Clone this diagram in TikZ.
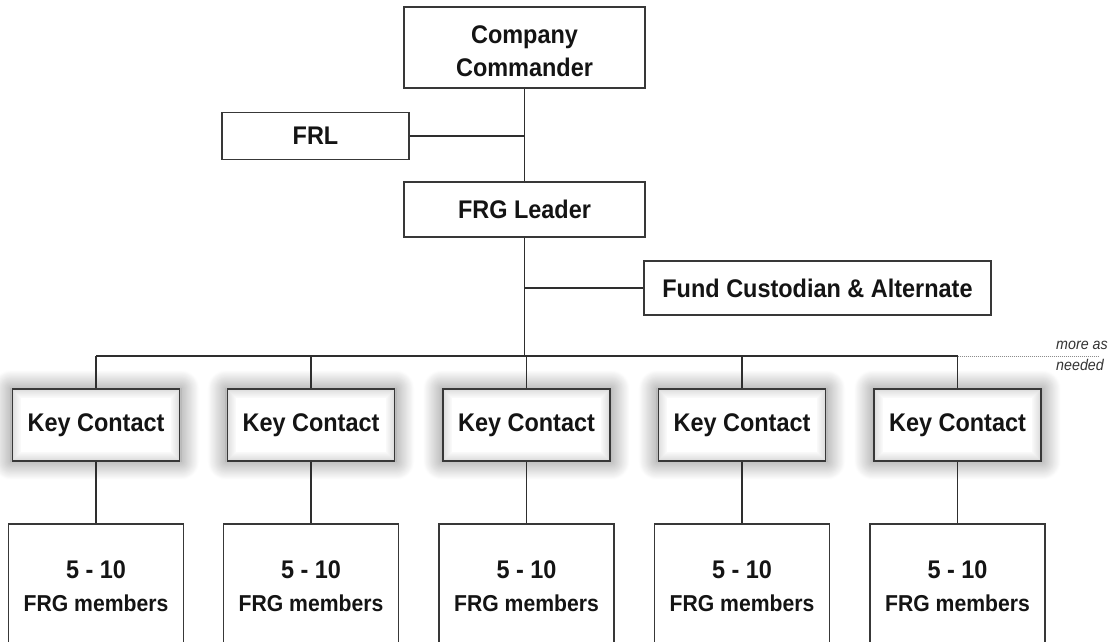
\documentclass[tikz,border=0pt]{standalone}
\usepackage{fontspec}
\setmainfont[FakeStretch=0.92]{Liberation Sans}
\usetikzlibrary{shadows.blur,calc}
\begin{document}
\begin{tikzpicture}[x=1pt,y=-1pt,
  box/.style={draw=black!78, line width=1.8pt, fill=white, inner sep=0pt,
    font=\bfseries\fontsize{25.5}{33}\selectfont, text=black!92, align=center},
  kcbase/.style={fill=black!13, draw=none, inner sep=0pt,
    minimum width=167, minimum height=72,
    blur shadow={shadow xshift=0pt, shadow yshift=0pt, shadow blur radius=18pt,
      shadow blur steps=30, shadow opacity=50, shadow scale=1.02}},
  kcbox/.style={draw=black!78, line width=1.8pt, inner sep=0pt,
    minimum width=167, minimum height=72,
    font=\bfseries\fontsize{25.5}{31}\selectfont, text=black!92},
  membox/.style={box, minimum width=175, minimum height=124,
    font=\bfseries\fontsize{23}{33}\selectfont},
  conn/.style={draw=black!82, line width=1.5pt},
  dotline/.style={draw=black!45, line width=1pt, densely dotted},
  note/.style={font=\itshape\fontsize{15.5}{21}\selectfont, text=black!80, align=left, inner sep=0pt}
]
\useasboundingbox (0,0) rectangle (1115,641);
\clip (0,0) rectangle (1115,641);

\coordinate (busy) at (0,356);
\coordinate (dotend) at (1098,356);

% upper boxes
\node[box, minimum width=241, minimum height=81] (cc) at (524.5,47.5) {};
\node[box, draw=none, fill=none] (cctext) at (524.5,51) {Company\\Commander};
\node[box, minimum width=187, minimum height=47] (frl) at (315.5,136) {FRL};
\node[box, minimum width=241, minimum height=55] (frg) at (524.5,209.5) {FRG Leader};
\node[box, minimum width=347, minimum height=54] (fund) at (817.5,288) {Fund Custodian \& Alternate};

% key contacts and members
\foreach \n/\x in {1/96,2/311,3/526.5,4/742,5/957.5} {
  \node[kcbase] (kcb\n) at (\x,425) {};
  \foreach \i [evaluate=\i as \g using 12-1.4*\i] in {0,...,7}
    \fill[black!\g] ($(kcb\n.north west)+(\i+1,\i+1)$) rectangle ($(kcb\n.south east)-(\i+1,\i+1)$);
  \fill[white] ($(kcb\n.north west)+(9,9)$) rectangle ($(kcb\n.south east)-(9,9)$);
  \node[kcbox] (kc\n) at (\x,425) {Key Contact};
  \node[membox] (mem\n) at (\x,586) {{\fontsize{25.5}{33}\selectfont 5 - 10}\\FRG members};
  \draw[conn] (kc\n.north |- busy) -- (kc\n.north);
  \draw[conn] (kc\n.south) -- (mem\n.north);
}

% connectors
\draw[conn] (cc.south) -- (frg.north);
\draw[conn] (frl.east) -- (frl.east -| cc.south);
\draw[conn] (frg.south) -- (frg.south |- busy);
\draw[conn] (frg.south |- fund.west) -- (fund.west);
\draw[conn] (kc1.north |- busy) -- (kc5.north |- busy);
\draw[dotline] (kc5.north |- busy) -- (dotend);

\node[note, anchor=west] (more) at (1056,356) {more as\\needed};
\end{tikzpicture}
\end{document}
